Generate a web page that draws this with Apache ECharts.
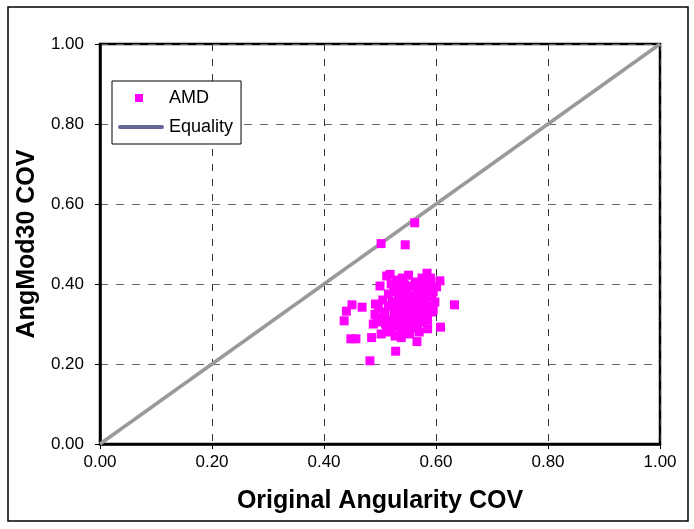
<!DOCTYPE html>
<html>
<head>
<meta charset="utf-8">
<script src="https://cdn.jsdelivr.net/npm/echarts@6/dist/echarts.min.js"></script>
<style>
  html, body { margin: 0; padding: 0; background: #fff; }
  #main { width: 694px; height: 529px; }
</style>
</head>
<body>
<div id="main"></div>
<script>
// AMD points: [original angularity COV, AngMod30 COV]
const amdPoints = [
  [0.562, 0.553], [0.502, 0.501], [0.545, 0.498], [0.518, 0.424], [0.551, 0.422],
  [0.584, 0.427], [0.607, 0.408], [0.633, 0.348], [0.450, 0.348], [0.440, 0.332],
  [0.468, 0.342], [0.436, 0.308], [0.448, 0.263], [0.457, 0.263], [0.482, 0.208],
  [0.528, 0.232], [0.608, 0.292], [0.585, 0.288], [0.566, 0.256], [0.538, 0.266],
  [0.485, 0.266], [0.491, 0.324], [0.595, 0.335], [0.592, 0.368], [0.601, 0.393],
  [0.500, 0.395], [0.505, 0.360], [0.508, 0.330], [0.510, 0.300], [0.512, 0.280],
  [0.515, 0.345], [0.515, 0.375], [0.518, 0.310], [0.520, 0.400], [0.520, 0.290],
  [0.522, 0.355], [0.525, 0.325], [0.525, 0.380], [0.527, 0.270], [0.528, 0.305],
  [0.530, 0.345], [0.530, 0.410], [0.532, 0.295], [0.533, 0.365], [0.535, 0.320],
  [0.535, 0.390], [0.537, 0.280], [0.538, 0.340], [0.540, 0.305], [0.540, 0.370],
  [0.542, 0.355], [0.543, 0.400], [0.545, 0.285], [0.545, 0.330], [0.547, 0.315],
  [0.548, 0.380], [0.550, 0.345], [0.550, 0.300], [0.552, 0.360], [0.553, 0.275],
  [0.555, 0.395], [0.555, 0.325], [0.557, 0.340], [0.558, 0.310], [0.560, 0.370],
  [0.560, 0.290], [0.562, 0.355], [0.563, 0.405], [0.565, 0.330], [0.565, 0.385],
  [0.567, 0.300], [0.568, 0.345], [0.570, 0.365], [0.570, 0.280], [0.572, 0.320],
  [0.574, 0.395], [0.575, 0.340], [0.577, 0.305], [0.578, 0.375], [0.580, 0.355],
  [0.582, 0.325], [0.584, 0.390], [0.585, 0.310], [0.587, 0.345], [0.590, 0.400],
  [0.592, 0.330], [0.595, 0.380], [0.598, 0.355], [0.497, 0.340], [0.495, 0.305],
  [0.502, 0.275], [0.506, 0.315], [0.488, 0.300], [0.492, 0.350], [0.512, 0.420],
  [0.540, 0.415], [0.575, 0.415], [0.590, 0.415]
];
// equality line endpoints
const equalityLine = [[0, 0], [1, 1]];
const xTicks = { min: 0, max: 1, interval: 0.2 };
const yTicks = { min: 0, max: 1, interval: 0.2 };

const myChart = echarts.init(document.getElementById('main'), null, { renderer: 'canvas' });

const font = 'Liberation Sans, Arial, sans-serif';

// legend icons drawn like the Excel legend keys
const svgIcon = body => 'image://data:image/svg+xml;utf8,' + encodeURIComponent(
  '<svg xmlns="http://www.w3.org/2000/svg" width="46" height="12">' + body + '</svg>');
const amdIcon = svgIcon('<rect x="17" y="2" width="8" height="8" fill="#FF00FF"/>');
const eqIcon = svgIcon('<line x1="2" y1="6" x2="44" y2="6" stroke="#666699" stroke-width="4" stroke-linecap="round"/>');

const option = {
  backgroundColor: '#fff',
  animation: false,
  textStyle: { fontFamily: font },
  graphic: [
    {
      type: 'rect',
      shape: { x: 8, y: 7, width: 680, height: 514 },
      style: { fill: 'none', stroke: '#000', lineWidth: 1.5 },
      z: -1
    }
  ],
  grid: {
    left: 100, right: 34, top: 44, bottom: 85,
    show: true,
    borderColor: '#000',
    borderWidth: 2.5,
    backgroundColor: '#fff'
  },
  legend: {
    orient: 'vertical',
    left: 112, top: 81,
    padding: [8, 8, 8, 6],
    itemGap: 11,
    backgroundColor: '#fff',
    borderColor: '#000',
    borderWidth: 1,
    itemWidth: 46, itemHeight: 12,
    textStyle: { fontSize: 18, color: '#000', fontFamily: font },
    data: [
      { name: 'AMD', icon: amdIcon },
      { name: 'Equality', icon: eqIcon }
    ]
  },
  xAxis: {
    type: 'value',
    min: xTicks.min, max: xTicks.max, interval: xTicks.interval,
    name: 'Original Angularity COV',
    nameLocation: 'middle',
    nameGap: 45,
    nameTextStyle: { fontSize: 25, fontWeight: 'bold', color: '#000', fontFamily: font },
    axisLine: { lineStyle: { color: '#000', width: 2.5 } },
    axisTick: { show: true, length: 5, lineStyle: { color: '#000' } },
    axisLabel: { fontSize: 17, color: '#000', margin: 10, formatter: v => v.toFixed(2) },
    splitLine: { show: true, lineStyle: { color: '#333', type: [7, 8], width: 1 } }
  },
  yAxis: {
    type: 'value',
    min: yTicks.min, max: yTicks.max, interval: yTicks.interval,
    name: 'AngMod30 COV',
    nameLocation: 'middle',
    nameGap: 56,
    nameTextStyle: { fontSize: 25, fontWeight: 'bold', color: '#000', fontFamily: font },
    axisLine: { lineStyle: { color: '#000', width: 2.5 } },
    axisTick: { show: true, length: 5, lineStyle: { color: '#000' } },
    axisLabel: { fontSize: 17, color: '#000', margin: 16, formatter: v => v.toFixed(2) },
    splitLine: { show: true, lineStyle: { color: '#666', type: [8, 8], width: 1 } }
  },
  series: [
    {
      name: 'Equality',
      type: 'line',
      data: equalityLine,
      showSymbol: false,
      symbol: 'none',
      lineStyle: { color: '#999999', width: 3.5 },
      itemStyle: { color: '#666699' },
      z: 2
    },
    {
      name: 'AMD',
      type: 'scatter',
      data: amdPoints,
      symbol: 'rect',
      symbolSize: 9,
      itemStyle: { color: '#FF00FF', opacity: 1 },
      z: 3
    }
  ]
};

myChart.setOption(option);
</script>
</body>
</html>
